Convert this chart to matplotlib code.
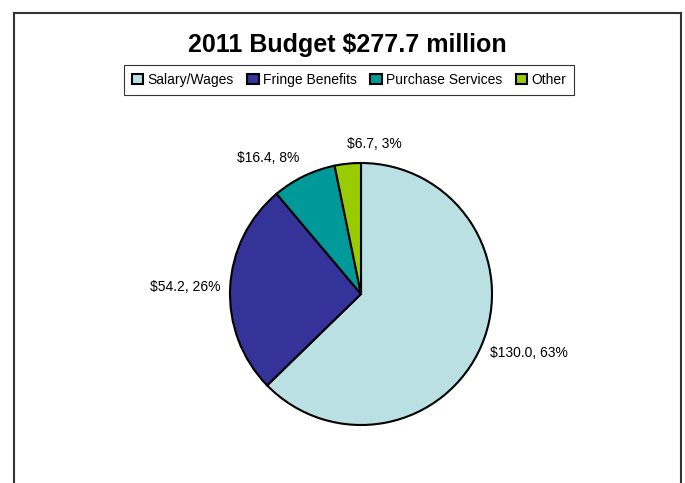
import numpy as np
import matplotlib.pyplot as plt
from matplotlib.lines import Line2D
from matplotlib.patches import Patch

plt.rcParams['font.family'] = ['Liberation Sans', 'DejaVu Sans']

categories = ['Salary/Wages', 'Fringe Benefits', 'Purchase Services', 'Other']
amounts = [130.0, 54.2, 16.4, 6.7]
percents = [63, 26, 8, 3]
colors = ['#BBE0E3', '#333399', '#009999', '#99CC00']

W, H = 685, 483
fig = plt.figure(figsize=(W / 100, H / 100), dpi=100)

# outer frame (bottom edge is cut off in the original)
fx = lambda px: px / W
fy = lambda py: 1 - py / H
frame = dict(color='#333333', lw=1.5, transform=fig.transFigure)
fig.add_artist(Line2D([fx(14), fx(14)], [fy(13), fy(490)], **frame))
fig.add_artist(Line2D([fx(14), fx(681)], [fy(13), fy(13)], **frame))
fig.add_artist(Line2D([fx(681), fx(681)], [fy(13), fy(490)], **frame))

fig.text(fx(347), fy(45), '2011 Budget $277.7 million', ha='center', va='center',
         fontsize=18, fontweight='bold')

# pie axes
cx, cy, r = 361, 294, 131
ax = fig.add_axes([fx(cx - r), fy(cy + r), 2 * r / W, 2 * r / H])
wedges, _ = ax.pie(amounts, colors=colors, startangle=90, counterclock=False,
                   wedgeprops=dict(edgecolor='black', linewidth=1.5))
ax.set_xlim(-1, 1)
ax.set_ylim(-1, 1)
ax.set_aspect('auto')
ax.axis('off')

aligns = ['left', 'right', 'right', 'left']
for w, a, p, ha in zip(wedges, amounts, percents, aligns):
    mid = np.deg2rad((w.theta1 + w.theta2) / 2)
    ax.text(1.07 * np.cos(mid), 1.15 * np.sin(mid), f'${a:.1f}, {p}%',
            ha=ha, va='center', fontsize=10, clip_on=False)

handles = [Patch(facecolor=c, edgecolor='black', linewidth=1.5) for c in colors]
leg = fig.legend(handles, categories, loc='center', bbox_to_anchor=(fx(349), fy(80)),
                 ncol=4, fontsize=10, frameon=True, fancybox=False,
                 handlelength=0.8, handleheight=0.8, handletextpad=0.3,
                 columnspacing=1.0, borderpad=0.55)
leg.get_frame().set_edgecolor('black')
leg.get_frame().set_linewidth(0.8)

fig.savefig('out.png', dpi=100)
